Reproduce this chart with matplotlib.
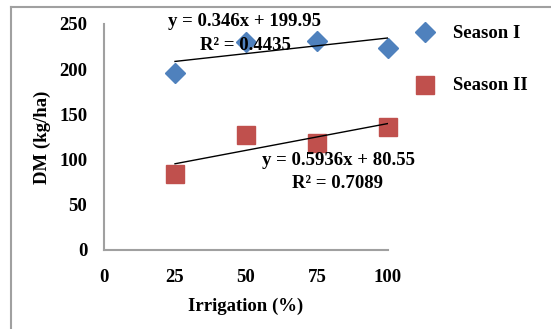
import numpy as np
import matplotlib.pyplot as plt
from matplotlib.lines import Line2D

# data
irrigation = [25, 50, 75, 100]
season1 = [196, 230, 231, 224]
season2 = [84, 127, 118, 136]
fit1 = (0.346, 199.95)
fit2 = (0.5936, 80.55)

W, H = 551, 329
fig = plt.figure(figsize=(W / 100, H / 100), dpi=100)
plt.rcParams['font.family'] = ['Liberation Serif', 'DejaVu Serif']
FS = 13.5

# outer chart frame (cut at right/bottom edge)
fig.add_artist(Line2D([11 / W, 11 / W], [0, 1 - 7 / H], transform=fig.transFigure,
                      color='#a0a0a0', lw=1.5))
fig.add_artist(Line2D([11 / W, 1], [1 - 7 / H, 1 - 7 / H], transform=fig.transFigure,
                      color='#a0a0a0', lw=1.5))

ax = fig.add_axes([104 / W, (H - 250) / H, (388 - 104) / W, (250 - 24) / H])

ax.plot(irrigation, season1, 'D', color='#4F81BD', markersize=10, label='Season I',
        zorder=3, clip_on=False)
ax.plot(irrigation, season2, 's', color='#C0504D', markersize=13, label='Season II',
        zorder=3, clip_on=False)

xs = np.array([irrigation[0], irrigation[-1]])
ax.plot(xs, fit1[0] * xs + fit1[1], color='black', lw=1, zorder=4)
ax.plot(xs, fit2[0] * xs + fit2[1], color='black', lw=1, zorder=4)

ax.set_xlim(0, 100)
ax.set_ylim(0, 250)
ax.set_xticks([0, 25, 50, 75, 100])
ax.set_yticks([0, 50, 100, 150, 200, 250])
ax.tick_params(length=0, labelsize=FS)
ax.tick_params(axis='x', pad=14)
ax.tick_params(axis='y', pad=12)
for lab in ax.get_xticklabels() + ax.get_yticklabels():
    lab.set_fontweight('bold')
for s in ['top', 'right']:
    ax.spines[s].set_visible(False)
for s in ['left', 'bottom']:
    ax.spines[s].set_color('#a0a0a0')
    ax.spines[s].set_linewidth(1.5)

ax.set_xlabel('Irrigation (%)', fontsize=FS, fontweight='bold', labelpad=8)
ax.set_ylabel('DM (kg/ha)', fontsize=FS, fontweight='bold', labelpad=6)

# trendline equations
def px(x, y):
    return x / W, 1 - y / H

fig.text(*px(245, 22), 'y = 0.346x + 199.95', ha='center', va='center',
         fontsize=FS, fontweight='bold')
fig.text(*px(245, 45), 'R² = 0.4435', ha='center', va='center',
         fontsize=FS, fontweight='bold')
fig.text(*px(338, 161), 'y = 0.5936x + 80.55', ha='center', va='center',
         fontsize=FS, fontweight='bold')
fig.text(*px(337, 183), 'R² = 0.7089', ha='center', va='center',
         fontsize=FS, fontweight='bold')

# legend
fig.add_artist(Line2D([425 / W], [1 - 32 / H], marker='D', color='#4F81BD',
                      markersize=10, transform=fig.transFigure))
fig.text(*px(453, 33), 'Season I', ha='left', va='center', fontsize=FS, fontweight='bold')
fig.add_artist(Line2D([425 / W], [1 - 85 / H], marker='s', color='#C0504D',
                      markersize=13, transform=fig.transFigure))
fig.text(*px(453, 86), 'Season II', ha='left', va='center', fontsize=FS, fontweight='bold')

fig.savefig('out.png', dpi=100)
